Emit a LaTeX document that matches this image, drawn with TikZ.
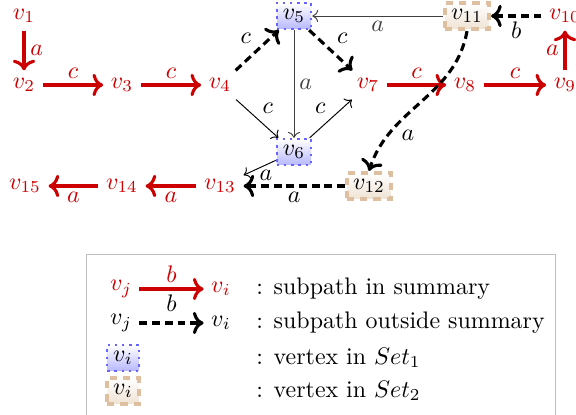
\documentclass[tikz,border=0pt]{standalone}
\usetikzlibrary{arrows.meta,shadings}
\definecolor{myred}{RGB}{204,0,0}
\definecolor{tanc}{RGB}{222,192,160}
\begin{document}
\begin{tikzpicture}[x=0.418pt,y=-0.418pt,
 rv/.style={inner sep=3pt,text=myred},
 bv/.style={inner sep=3pt},
 sone/.style={draw=blue!60,dotted,line width=1pt,top color=white,bottom color=blue!28,inner sep=2.5pt},
 stwo/.style={draw=tanc,dash pattern=on 3pt off 2.5pt,line width=1.8pt,top color=white,bottom color=tanc!45,inner sep=2.5pt},
 redge/.style={->,draw=myred,line width=1.3pt},
 dedge/.style={->,line width=1.3pt,dash pattern=on 3.3pt off 2pt},
 tedge/.style={->,line width=0.4pt},
 rl/.style={text=myred,inner sep=2pt},
 bl/.style={inner sep=2pt},
]
\clip (0,0) rectangle (576,415);
% vertices
\node[rv] (v1) at (24,16) {$v_1$};
\node[rv] (v2) at (24,85) {$v_2$};
\node[rv] (v3) at (122,85) {$v_3$};
\node[rv] (v4) at (220,85) {$v_4$};
\node[sone] (v5) at (294,16) {$v_5$};
\node[sone] (v6) at (294,152) {$v_6$};
\node[rv] (v7) at (368,85) {$v_7$};
\node[rv] (v8) at (465,85) {$v_8$};
\node[rv] (v9) at (565,85) {$v_9$};
\node[rv] (v10) at (565,16) {$v_{10}$};
\node[stwo] (v11) at (467,16) {$v_{11}$};
\node[stwo] (v12) at (369,186) {$v_{12}$};
\node[rv] (v13) at (220,186) {$v_{13}$};
\node[rv] (v14) at (122,186) {$v_{14}$};
\node[rv] (v15) at (25,186) {$v_{15}$};
% red edges
\draw[redge] (v1) -- node[right,rl]{$a$} (v2);
\draw[redge] (v2) -- node[above,rl]{$c$} (v3);
\draw[redge] (v3) -- node[above,rl]{$c$} (v4);
\draw[redge] (v7) -- node[above,rl]{$c$} (v8);
\draw[redge] (v8) -- node[above,rl]{$c$} (v9);
\draw[redge] (v9) -- node[left,rl]{$a$} (v10);
\draw[redge] (v13) -- node[below,rl]{$a$} (v14);
\draw[redge] (v14) -- node[below,rl]{$a$} (v15);
% dashed edges
\draw[dedge] (v4) -- node[above left,bl]{$c$} (v5);
\draw[dedge] (v5) -- node[above right,bl]{$c$} (v7);
\draw[dedge] (v10) -- node[below,bl]{$b$} (v11);
\draw[dedge] (v12) -- node[below,bl]{$a$} (v13);
\draw[dedge] (v11.south) to[out=-100,in=72] node[pos=0.78,right,bl,xshift=3pt]{$a$} (v12.north);
% thin edges
\draw[tedge,black!75] (v11) -- node[below,bl]{$a$} (v5);
\draw[tedge,black!75] (v5) -- node[right,bl,pos=0.5]{$a$} (v6);
\draw[tedge] (v4) -- node[above right,bl]{$c$} (v6);
\draw[tedge] (v6) -- node[above left,bl]{$c$} (v7);
\draw[tedge] (v6) -- node[below,bl,pos=0.3]{$a$} (v13);
% legend
\draw[black!25] (86,254) rectangle (555,418);
\node[rv] (lj1) at (121,289) {$v_j$};
\node[rv] (li1) at (221,289) {$v_i$};
\draw[redge] (lj1) -- node[above,rl]{$b$} (li1);
\node[bv] (lj2) at (121,323) {$v_j$};
\node[bv] (li2) at (221,323) {$v_i$};
\draw[dedge] (lj2) -- node[above,bl,yshift=2pt]{$b$} (li2);
\node[sone] (ls1) at (123,358) {$v_i$};
\node[stwo] (ls2) at (123,391) {$v_i$};
\node[anchor=west] (t1) at (248,289) {: subpath in summary};
\node[anchor=west] (t2) at (248,323) {: subpath outside summary};
\node[anchor=west] (t3) at (248,358) {: vertex in $Set_1$};
\node[anchor=west] (t4) at (248,391) {: vertex in $Set_2$};
\end{tikzpicture}
\end{document}
